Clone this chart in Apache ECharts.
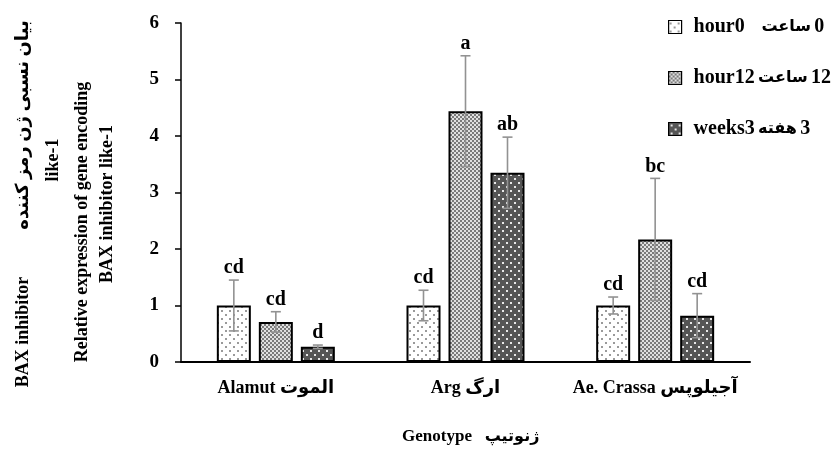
<!DOCTYPE html>
<html><head><meta charset="utf-8">
<script src="https://cdn.jsdelivr.net/npm/echarts@6/dist/echarts.min.js"></script>
<style>html,body{margin:0;padding:0;background:#fff}#c{width:833px;height:450px}</style>
</head><body><div id="c"></div>
<script>
// ---- data ----
const categories = ['Alamut الموت', 'Arg ارگ', 'Ae. Crassa آجیلوپس'];
const seriesNames = ['hour0', 'hour12', 'weeks3'];
const seriesPersian = ['ساعت', 'ساعت', 'هفته'];
const seriesNumber = ['0', '12', '3'];
const hour0 = [1.00, 1.00, 1.00];
const hour0Err = [0.45, 0.27, 0.15];
const hour0Letters = ['cd', 'cd', 'cd'];
const hour12 = [0.71, 4.44, 2.17];
const hour12Err = [0.18, 0.98, 1.08];
const hour12Letters = ['cd', 'a', 'bc'];
const weeks3 = [0.27, 3.35, 0.82];
const weeks3Err = [0.03, 0.63, 0.39];
const weeks3Letters = ['d', 'ab', 'cd'];
const yTicks = [0, 1, 2, 3, 4, 5, 6];

// ---- patterns ----
function pattern(w, h, draw) {
  const c = document.createElement('canvas');
  c.width = w; c.height = h;
  draw(c.getContext('2d'));
  return { image: c, repeat: 'repeat' };
}
const pDots = pattern(8, 8, g => {
  g.fillStyle = '#fff'; g.fillRect(0, 0, 8, 8);
  g.fillStyle = '#9a9a9a'; g.fillRect(1, 2, 2, 2); g.fillRect(5, 6, 2, 2);
});
const pCheck = pattern(4, 4, g => {
  g.fillStyle = '#e0e0e0'; g.fillRect(0, 0, 4, 4);
  g.fillStyle = '#7a7a7a'; g.fillRect(0, 0, 2, 2); g.fillRect(2, 2, 2, 2);
});
const pDark = pattern(8, 8, g => {
  g.fillStyle = '#555'; g.fillRect(0, 0, 8, 8);
  g.fillStyle = '#e8e8e8'; g.fillRect(2, 2, 2, 2); g.fillRect(6, 6, 2, 2);
});

const BAR_W = 34, BAR_GAP = 8;
const FONT = "'Liberation Serif', 'DejaVu Sans', serif";

function barSeries(name, data, fill) {
  return {
    name, type: 'bar', data, barWidth: BAR_W, barGap: (BAR_GAP / BAR_W * 100) + '%',
    itemStyle: { color: fill, borderColor: '#000', borderWidth: 2 },
    emphasis: { disabled: true }
  };
}
function errSeries(vals, errs, letters, offset) {
  return {
    type: 'custom', z: 10, silent: true,
    data: vals.map((v, i) => [i, v, errs[i]]),
    encode: { x: 0, y: 1 },
    renderItem(params, api) {
      const i = api.value(0), v = api.value(1), e = api.value(2);
      const top = api.coord([i, v + e]);
      const bot = api.coord([i, v - e]);
      const x = top[0] + offset, cap = 5;
      const st = { stroke: '#929292', lineWidth: 1.6 };
      return {
        type: 'group', children: [
          { type: 'line', shape: { x1: x, y1: top[1], x2: x, y2: bot[1] }, style: st },
          { type: 'line', shape: { x1: x - cap, y1: top[1], x2: x + cap, y2: top[1] }, style: st },
          { type: 'line', shape: { x1: x - cap, y1: bot[1], x2: x + cap, y2: bot[1] }, style: st },
          { type: 'text', x: x, y: top[1] - 2, style: {
              text: letters[params.dataIndex], fill: '#000', align: 'center', verticalAlign: 'bottom',
              font: "bold 20px " + FONT } }
        ]
      };
    }
  };
}

const chart = echarts.init(document.getElementById('c'), null, { renderer: 'canvas' });
const step = BAR_W + BAR_GAP;
const R = Math.PI / 2;
const tStyle = (text, size) => ({ text, align: 'center', verticalAlign: 'middle', font: 'bold ' + size + 'px ' + FONT, fill: '#000' });
chart.setOption({
  animation: false,
  backgroundColor: '#fff',
  grid: { left: 181, right: 83, top: 23, bottom: 88 },
  legend: {
    orient: 'vertical', left: 663, top: 12, itemGap: 31,
    itemWidth: 13, itemHeight: 13, icon: 'rect',
    data: seriesNames,
    itemStyle: { borderColor: '#000', borderWidth: 1.2 },
    formatter: name => {
      const k = seriesNames.indexOf(name);
      const sp = k === 0 ? '     ' : ' ';
      return '{a|' + name + '}' + sp + '{b|' + seriesPersian[k] + '} {a|' + seriesNumber[k] + '}';
    },
    textStyle: {
      color: '#000', padding: [0, 0, 0, 7],
      rich: {
        a: { fontFamily: FONT, fontWeight: 'bold', fontSize: 20, color: '#000' },
        b: { fontFamily: "'DejaVu Sans', sans-serif", fontWeight: 'bold', fontSize: 16, color: '#000' }
      }
    },
    selectedMode: false
  },
  xAxis: {
    type: 'category', data: categories,
    axisLine: { lineStyle: { color: '#000', width: 2 } },
    axisTick: { show: false },
    axisLabel: { interval: 0, fontFamily: FONT, fontWeight: 'bold', fontSize: 18, color: '#000', margin: 17 }
  },
  yAxis: {
    type: 'value', min: yTicks[0], max: yTicks[yTicks.length - 1], interval: 1,
    splitLine: { show: false },
    axisLine: { show: true, lineStyle: { color: '#000', width: 1.5 } },
    axisTick: { show: true, length: 6, lineStyle: { color: '#000', width: 1.5 } },
    axisLabel: { fontFamily: FONT, fontWeight: 'bold', fontSize: 19, color: '#000', margin: 22 }
  },
  series: [
    barSeries(seriesNames[0], hour0, pDots),
    barSeries(seriesNames[1], hour12, pCheck),
    barSeries(seriesNames[2], weeks3, pDark),
    errSeries(hour0, hour0Err, hour0Letters, -step),
    errSeries(hour12, hour12Err, hour12Letters, 0),
    errSeries(weeks3, weeks3Err, weeks3Letters, step)
  ],
  graphic: [
    { type: 'text', x: 23, y: 332, rotation: R, style: tStyle('BAX inhibitor', 18) },
    { type: 'text', x: 23, y: 125, rotation: R, style: tStyle('بیان نسبی ژن رمز کننده', 18) },
    { type: 'text', x: 53, y: 160, rotation: R, style: tStyle('like-1', 18) },
    { type: 'text', x: 82, y: 222, rotation: R, style: tStyle('Relative expression of gene encoding', 18) },
    { type: 'text', x: 107, y: 204, rotation: R, style: tStyle('BAX inhibitor like-1', 18) },
    { type: 'text', x: 437, y: 437, style: tStyle('Genotype', 17) },
    { type: 'text', x: 512, y: 437, style: tStyle('ژنوتیپ', 16) }
  ]
});
</script></body></html>
